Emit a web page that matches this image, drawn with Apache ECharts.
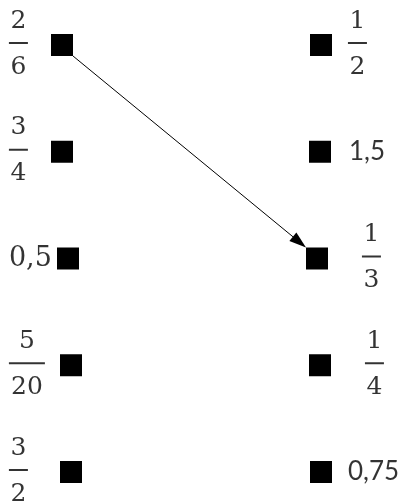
<!DOCTYPE html>
<html><head><meta charset="utf-8">
<script src="https://cdn.jsdelivr.net/npm/echarts@6/dist/echarts.min.js"></script>
<style>html,body{margin:0;padding:0;background:#fff}#c{width:406px;height:504px}</style>
</head><body><div id="c"></div>
<script>
// ---- data ----
const leftItems = ['2/6', '3/4', '0,5', '5/20', '3/2'];
const rightItems = ['1/2', '1,5', '1/3', '1/4', '0,75'];
const links = [[0, 2]]; // [left row, right row]

// ---- style ----
const leftSquareShift = [0, 0, 6, 9, 9];
const rightSquareShift = [0, -1, -4, -1, 0];
const rightLabelShift = [0, 1, 14, 17, 0];
const SQ = 22;
const LABEL_L = -0.205, LABEL_R = 1.104;
const SERIF = 'DejaVu Serif', SANS = 'Lato';

function fmt(t, decStyle) {
  if (t.indexOf('/') >= 0) {
    const p = t.split('/');
    const w = Math.max(p[0].length, p[1].length);
    return '{n|' + p[0] + '}\n{hr' + w + '|}\n{d|' + p[1] + '}';
  }
  return '{' + decStyle + '|' + t + '}';
}
const rich = {
  n: {fontFamily: SERIF, fontSize: 25, lineHeight: 40, align: 'center', color: '#000'},
  d: {fontFamily: SERIF, fontSize: 25, lineHeight: 44, align: 'center', color: '#000'},
  hr1: {width: 19, height: 2, lineHeight: 4, backgroundColor: '#000', align: 'center'},
  hr2: {width: 36, height: 2, lineHeight: 4, backgroundColor: '#000', align: 'center'},
  ds: {fontFamily: SERIF, fontSize: 27, color: '#000'},
  dn: {fontFamily: SANS, fontSize: 26, color: '#000'}
};

const rows = leftItems.map((_, i) => i);

const chart = echarts.init(document.getElementById('c'), null, {renderer: 'canvas'});
chart.setOption({
  animation: false,
  backgroundColor: '#fff',
  grid: {left: 62, right: 85, top: 45, bottom: 32},
  xAxis: {type: 'value', min: 0, max: 1, show: false},
  yAxis: {type: 'value', min: 0, max: 4, inverse: true, show: false},
  series: [
    {
      type: 'scatter', clip: false, symbol: 'rect', symbolSize: SQ,
      itemStyle: {color: '#000', opacity: 1},
      data: rows.map(i => ({value: [0, i], symbolOffset: [leftSquareShift[i], 0]}))
    },
    {
      type: 'scatter', clip: false, symbol: 'rect', symbolSize: SQ,
      itemStyle: {color: '#000', opacity: 1},
      data: rows.map(i => ({value: [1, i], symbolOffset: [rightSquareShift[i], 0]}))
    },
    {
      type: 'scatter', clip: false, symbolSize: 0, silent: true,
      itemStyle: {color: 'rgba(0,0,0,0)'},
      label: {show: true, position: 'right', distance: 0, rich: rich,
        formatter: p => fmt(leftItems[p.dataIndex], 'ds')},
      data: rows.map(i => [LABEL_L, i])
    },
    {
      type: 'scatter', clip: false, symbolSize: 0, silent: true,
      itemStyle: {color: 'rgba(0,0,0,0)'},
      label: {show: true, position: 'right', distance: 0, rich: rich,
        formatter: p => fmt(rightItems[p.dataIndex], 'dn')},
      data: rows.map(i => ({value: [LABEL_R, i], label: {offset: [rightLabelShift[i], 0]}}))
    },
    {
      type: 'custom', clip: false, silent: true,
      data: links.map(l => [0, l[0], 1, l[1]]),
      renderItem: function (params, api) {
        const li = api.value(1), ri = api.value(3);
        const p1 = api.coord([0, li]); p1[0] += leftSquareShift[li];
        const p2 = api.coord([1, ri]); p2[0] += rightSquareShift[ri];
        const h = SQ / 2;
        const sg = Math.sign(p2[1] - p1[1]);
        const sx = p1[0] + h, sy = p1[1] + h * sg;
        const ex = p2[0] - h, ey = p2[1] - h * sg;
        const a = Math.atan2(ey - sy, ex - sx);
        const L = 17, W = 5.5;
        const c = Math.cos(a), s = Math.sin(a);
        const bx = ex - L * c, by = ey - L * s;
        return {
          type: 'group',
          children: [
            {type: 'line', shape: {x1: sx, y1: sy, x2: bx + 2 * c, y2: by + 2 * s},
              style: {stroke: '#000', lineWidth: 1}},
            {type: 'polygon', shape: {points: [[ex, ey], [bx - W * s, by + W * c], [bx + W * s, by - W * c]]},
              style: {fill: '#000'}}
          ]
        };
      }
    }
  ]
});
</script>
</body></html>
